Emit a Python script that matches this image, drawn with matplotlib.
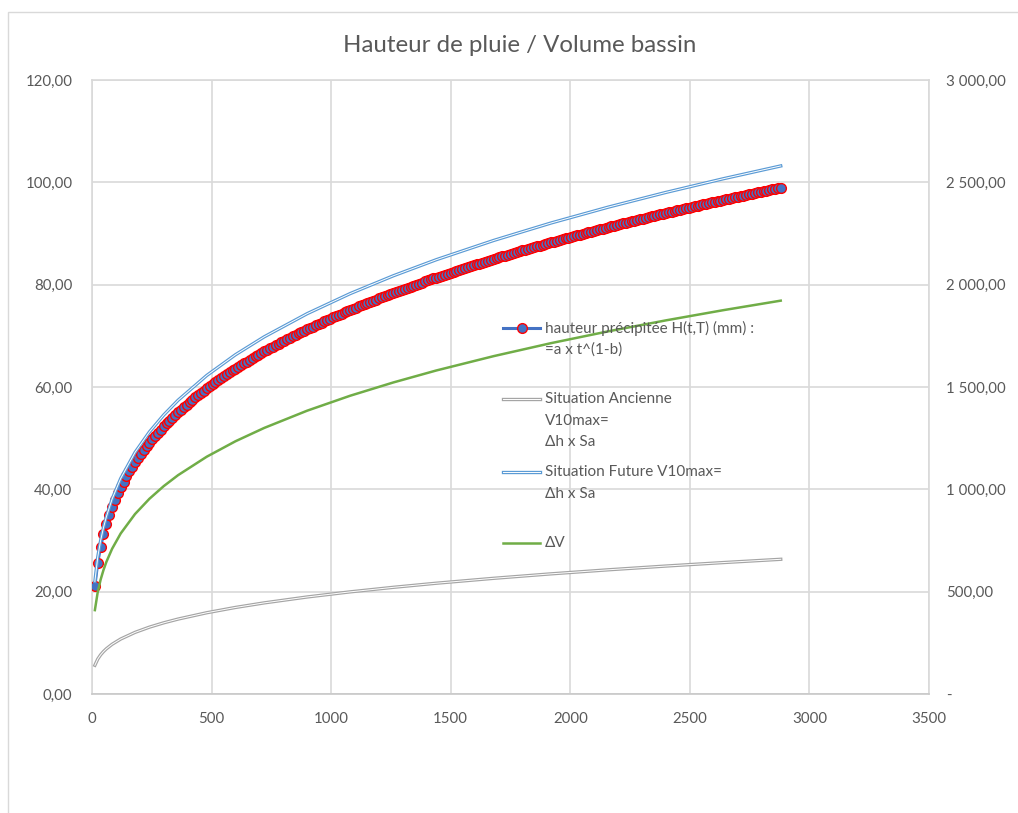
import matplotlib
matplotlib.use("Agg")
import matplotlib.pyplot as plt
from matplotlib.lines import Line2D
from matplotlib.patches import Rectangle
from matplotlib.ticker import FuncFormatter, MultipleLocator

plt.rcParams['font.family'] = ['Lato', 'DejaVu Sans']

# durée de pluie (min), pas de 12 min jusqu'à 48 h
duree = list(range(12, 2881, 12))

# hauteur précipitée H(t,T) en mm (axe gauche)
hauteur = [
    21.10, 25.66, 28.76, 31.19, 33.22, 34.97, 36.53, 37.93, 39.21, 40.39,
    41.49, 42.52, 43.49, 44.41, 45.28, 46.12, 46.91, 47.67, 48.40, 49.11,
    49.78, 50.44, 51.07, 51.69, 52.30, 52.88, 53.45, 54.00, 54.54, 55.06,
    55.57, 56.07, 56.55, 57.03, 57.50, 57.96, 58.41, 58.86, 59.29, 59.71,
    60.13, 60.54, 60.94, 61.34, 61.73, 62.11, 62.49, 62.86, 63.23, 63.59,
    63.95, 64.30, 64.64, 64.98, 65.32, 65.65, 65.98, 66.31, 66.63, 66.94,
    67.25, 67.56, 67.87, 68.17, 68.47, 68.77, 69.06, 69.35, 69.64, 69.92,
    70.20, 70.48, 70.75, 71.02, 71.29, 71.56, 71.82, 72.08, 72.34, 72.60,
    72.85, 73.10, 73.35, 73.60, 73.85, 74.09, 74.33, 74.57, 74.81, 75.05,
    75.28, 75.52, 75.75, 75.98, 76.20, 76.43, 76.65, 76.88, 77.10, 77.32,
    77.53, 77.75, 77.96, 78.17, 78.38, 78.59, 78.80, 79.01, 79.21, 79.42,
    79.62, 79.83, 80.02, 80.22, 80.42, 80.62, 80.82, 81.01, 81.21, 81.40,
    81.59, 81.77, 81.96, 82.14, 82.33, 82.51, 82.70, 82.88, 83.07, 83.25,
    83.43, 83.60, 83.78, 83.96, 84.13, 84.31, 84.48, 84.66, 84.83, 85.01,
    85.18, 85.34, 85.51, 85.68, 85.85, 86.01, 86.18, 86.35, 86.51, 86.68,
    86.84, 87.00, 87.16, 87.32, 87.48, 87.64, 87.80, 87.96, 88.12, 88.28,
    88.43, 88.58, 88.74, 88.89, 89.04, 89.19, 89.34, 89.50, 89.65, 89.80,
    89.95, 90.09, 90.24, 90.38, 90.53, 90.68, 90.82, 90.97, 91.11, 91.26,
    91.40, 91.54, 91.68, 91.82, 91.96, 92.10, 92.24, 92.38, 92.52, 92.66,
    92.80, 92.93, 93.07, 93.20, 93.34, 93.47, 93.61, 93.74, 93.88, 94.01,
    94.14, 94.27, 94.40, 94.53, 94.66, 94.79, 94.92, 95.05, 95.18, 95.31,
    95.44, 95.56, 95.69, 95.81, 95.94, 96.07, 96.19, 96.32, 96.44, 96.57,
    96.69, 96.81, 96.94, 97.06, 97.18, 97.30, 97.42, 97.55, 97.67, 97.79,
    97.91, 98.03, 98.14, 98.26, 98.38, 98.50, 98.62, 98.73, 98.85, 98.97,
]

# volumes (axe droit)
duree_v = [12, 24, 36, 48, 60, 84, 120, 180, 240, 300, 360, 480, 600, 720,
           900, 1080, 1260, 1440, 1680, 1920, 2160, 2400, 2640, 2880]
v_ancienne = [140.3, 170.6, 191.3, 207.4, 220.9, 242.9, 268.6, 301.1, 326.6,
              347.8, 366.1, 397.1, 422.9, 445.2, 474.1, 499.1, 521.2, 541.3,
              565.3, 587.1, 606.9, 625.2, 642.2, 658.2]
v_future = [550.1, 669.0, 749.8, 813.1, 866.0, 952.3, 1053.0, 1180.5, 1280.3,
            1363.5, 1435.4, 1556.6, 1657.8, 1745.1, 1858.5, 1956.6, 2043.4,
            2122.1, 2216.2, 2301.5, 2379.2, 2450.8, 2517.6, 2580.1]
delta_v = [409.8, 498.4, 558.5, 605.7, 645.1, 709.4, 784.4, 879.4, 953.7,
           1015.7, 1069.3, 1159.5, 1234.9, 1299.9, 1384.4, 1457.5, 1522.2,
           1580.8, 1650.9, 1714.4, 1772.3, 1825.6, 1875.4, 1921.9]

txt_col = '#595959'
grid_col = '#D9D9D9'
c_h = '#4472C4'
c_anc = '#A5A5A5'
c_fut = '#5B9BD5'
c_dv = '#70AD47'

W, H = 1018, 813
fig = plt.figure(figsize=(W / 100, H / 100), dpi=100)
ax = fig.add_axes([92 / W, 1 - 694 / H, (929 - 92) / W, (694 - 80) / H])

ax.plot(duree, hauteur, color=c_h, lw=2.2, marker='o', markersize=7,
        markerfacecolor=c_h, markeredgecolor='#FF0000', markeredgewidth=1.0,
        zorder=3)
ax.set_xlim(0, 3500)
ax.set_ylim(0, 120)
ax.xaxis.set_major_locator(MultipleLocator(500))
ax.yaxis.set_major_locator(MultipleLocator(20))
ax.grid(True, color=grid_col, lw=1.2)
ax.set_axisbelow(True)


def fr_fmt(v, pos):
    s = f"{v:,.2f}"
    return s.replace(',', ' ').replace('.', ',')


def fr_fmt_right(v, pos):
    if abs(v) < 1e-9:
        return '-'
    return fr_fmt(v, pos)


ax.yaxis.set_major_formatter(FuncFormatter(fr_fmt))
ax.xaxis.set_major_formatter(FuncFormatter(lambda v, p: f"{int(v)}"))
ax.tick_params(length=0, labelsize=10.8, labelcolor=txt_col)
ax.tick_params(axis='y', pad=14)
ax.tick_params(axis='x', pad=13)
for sp in ax.spines.values():
    sp.set_color(grid_col)
    sp.set_linewidth(1.2)
ax.spines['bottom'].set_color('#C8C8C8')

ax2 = ax.twinx()
ax2.set_ylim(0, 3000)
ax2.yaxis.set_major_locator(MultipleLocator(500))
ax2.yaxis.set_major_formatter(FuncFormatter(fr_fmt_right))
ax2.tick_params(length=0, labelsize=10.8, labelcolor=txt_col, pad=12)
for sp in ax2.spines.values():
    sp.set_visible(False)

# lignes doubles (style Excel) : trait coloré + filet blanc
ax2.plot(duree_v, v_ancienne, color=c_anc, lw=2.4, zorder=2)
ax2.plot(duree_v, v_ancienne, color='white', lw=0.7, zorder=2)
ax2.plot(duree_v, v_future, color=c_fut, lw=2.4, zorder=2)
ax2.plot(duree_v, v_future, color='white', lw=0.7, zorder=2)
ax2.plot(duree_v, delta_v, color=c_dv, lw=1.8, zorder=2)

fig.text(520 / W, 1 - 45 / H, "Hauteur de pluie / Volume bassin",
         ha='center', va='center', fontsize=17.3, color=txt_col)

# légende dessinée à la main (symbole aligné sur la première ligne)
legend_items = [
    (328, ["hauteur précipitée H(t,T) (mm) :", "=a x t^(1-b)"], 'h'),
    (399, ["Situation Ancienne", "V10max=", "\u0394h x Sa"], 'anc'),
    (472, ["Situation Future V10max=", "\u0394h x Sa"], 'fut'),
    (543, ["\u0394V"], 'dv'),
]
x0, x1, xt = 503 / W, 540 / W, 545 / W
for ypx, lines, kind in legend_items:
    yf = 1 - ypx / H
    if kind == 'h':
        fig.add_artist(Line2D([x0, x1], [yf, yf], color=c_h, lw=2.2,
                              transform=fig.transFigure))
        fig.add_artist(Line2D([(x0 + x1) / 2], [yf], marker='o', markersize=7,
                              markerfacecolor=c_h, markeredgecolor='#FF0000',
                              markeredgewidth=1.0, transform=fig.transFigure))
    elif kind in ('anc', 'fut'):
        col = c_anc if kind == 'anc' else c_fut
        fig.add_artist(Line2D([x0, x1], [yf, yf], color=col, lw=2.4,
                              transform=fig.transFigure))
        fig.add_artist(Line2D([x0, x1], [yf, yf], color='white', lw=0.7,
                              transform=fig.transFigure))
    else:
        fig.add_artist(Line2D([x0, x1], [yf, yf], color=c_dv, lw=1.8,
                              transform=fig.transFigure))
    for i, t in enumerate(lines):
        fig.text(xt, 1 - (ypx + i * 21.5) / H, t, ha='left', va='center',
                 fontsize=11, color=txt_col)

# cadre du graphique
fig.add_artist(Rectangle((8 / W, -0.05), 1.1, 1 - 12 / H + 0.05,
                         transform=fig.transFigure, fill=False,
                         edgecolor=grid_col, lw=1))

fig.savefig("out.png", dpi=100)
